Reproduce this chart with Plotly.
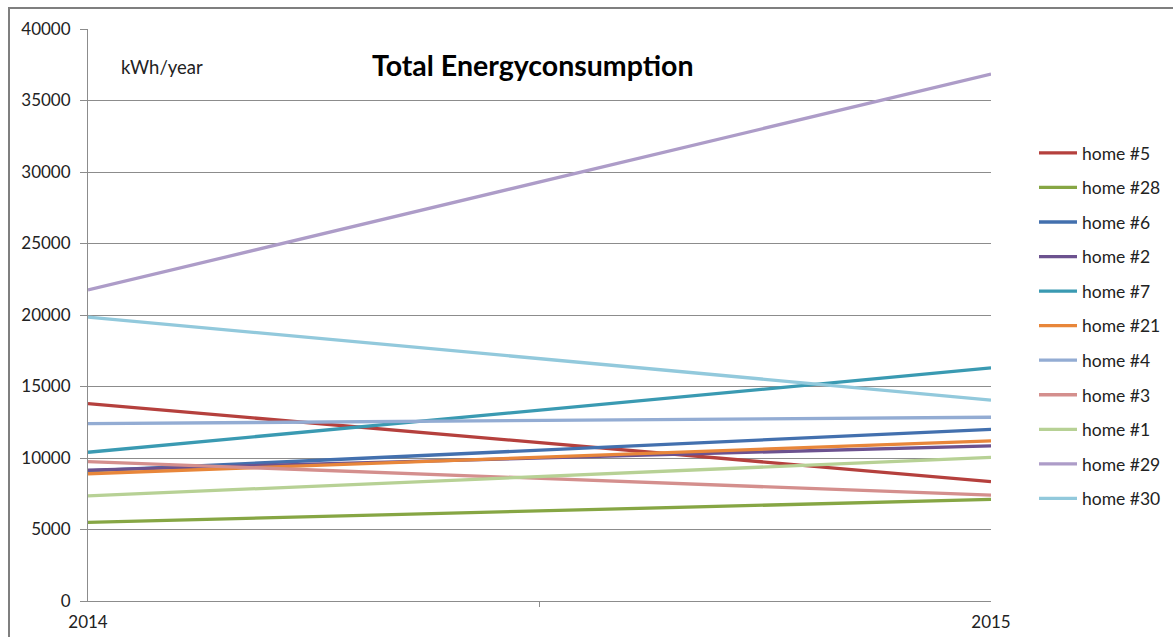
import plotly.graph_objects as go

# Annual energy use per home (kWh/year)
years = [2014, 2015]
homes = ["home #5", "home #28", "home #6", "home #2", "home #7", "home #21",
         "home #4", "home #3", "home #1", "home #29", "home #30"]
usage_2014 = [13800, 5500, 9100, 9150, 10400, 8900, 12400, 9750, 7350, 21750, 19850]
usage_2015 = [8350, 7100, 12000, 10850, 16300, 11200, 12850, 7400, 10050, 36850, 14050]
colors = ["#B5403D", "#86A644", "#4370AE", "#6C528F", "#3A9AB2", "#E8863A",
          "#93ACD3", "#D48F8D", "#B7D195", "#AD9CC8", "#92C9DC"]

FONT = "Lato, 'Open Sans', sans-serif"

W, H = 1173, 637
L, R, T, B = 88, 182, 29, 36
pw, ph = W - L - R, H - T - B

fig = go.Figure()
for i, name in enumerate(homes):
    fig.add_trace(go.Scatter(
        x=years, y=[usage_2014[i], usage_2015[i]],
        mode="lines", name=name, legendgroup=name,
        line=dict(color=colors[i], width=3.3),
    ))

fig.update_layout(
    width=W, height=H,
    margin=dict(l=L, r=R, t=T, b=B, autoexpand=False),
    paper_bgcolor="white", plot_bgcolor="white",
    font=dict(family=FONT, size=17, color="#222222"),
    showlegend=True,
    legend=dict(
        x=(1034 - L) / pw, xanchor="left",
        y=(H - B - 135) / ph, yanchor="top",
        font=dict(family=FONT, size=17.5, color="#222222"),
        tracegroupgap=8.8, itemwidth=38,
        bgcolor="rgba(0,0,0,0)",
    ),
    xaxis=dict(
        range=[2014, 2015], tickvals=years, ticktext=[str(y) for y in years],
        showgrid=False, zeroline=False, automargin=False,
        showline=True, linecolor="#8C8C8C", linewidth=1,
        ticks="inside", ticklen=6, tickcolor="#8C8C8C",
        minor=dict(tickvals=[2014.5], ticks="outside", ticklen=5, tickcolor="#8C8C8C"),
        tickfont=dict(family=FONT, size=17, color="#222222"),
        ticklabelstandoff=6,
    ),
    yaxis=dict(
        range=[0, 40000], dtick=5000, tickformat="d",
        showgrid=True, gridcolor="#8C8C8C", gridwidth=1, zeroline=False, automargin=False,
        showline=True, linecolor="#8C8C8C", linewidth=1,
        ticks="outside", ticklen=7, tickcolor="#8C8C8C",
        tickfont=dict(family=FONT, size=17, color="#222222"),
        ticklabelstandoff=6,
    ),
    annotations=[
        dict(text="<b>Total Energyconsumption</b>", xref="paper", yref="paper",
             x=(532 - L) / pw, y=(H - B - 65) / ph, xanchor="center", yanchor="middle",
             showarrow=False, font=dict(family=FONT, size=28.5, color="black")),
        dict(text="kWh/year", xref="paper", yref="paper",
             x=(119 - L) / pw, y=(H - B - 67) / ph, xanchor="left", yanchor="middle",
             showarrow=False, font=dict(family=FONT, size=18.5, color="#222222")),
    ],
    shapes=[
        # chart frame (left and top edges)
        dict(type="path", xref="paper", yref="paper",
             path=f"M {(9 - L) / pw},{(H - B - 645) / ph} L {(9 - L) / pw},{(H - B - 8) / ph} "
                  f"L {(1180 - L) / pw},{(H - B - 8) / ph}",
             line=dict(color="#7F7F7F", width=2)),
    ],
)

fig.write_html("out.html")
